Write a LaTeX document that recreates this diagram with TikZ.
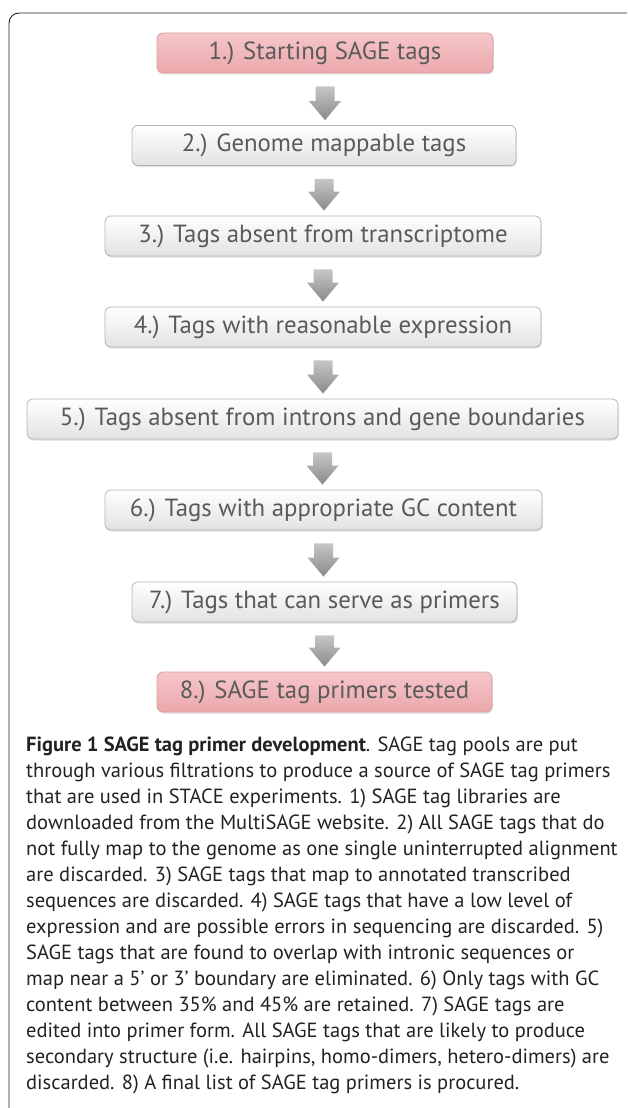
\documentclass[tikz,border=0pt]{standalone}
\usepackage{fontspec}
\setmainfont{PT Sans}
\usetikzlibrary{calc,shadows}
\definecolor{txt}{HTML}{5A5A5A}
\definecolor{captxt}{HTML}{222222}
\definecolor{boxedge}{HTML}{B4B4B4}
\definecolor{boxbot}{HTML}{E2E2E2}
\definecolor{pinkedge}{HTML}{D9A0A3}
\definecolor{pinktop}{HTML}{F6C6C9}
\definecolor{pinkbot}{HTML}{EAA8AC}
\definecolor{arrtop}{HTML}{C6C6C6}
\definecolor{arrbot}{HTML}{8A8A8A}
\definecolor{framecol}{HTML}{222222}
\tikzset{
  stepbox/.style={rounded corners=6pt, draw=boxedge, line width=0.8pt,
    top color=white, bottom color=boxbot, minimum height=40pt, inner sep=0pt,
    text=txt, font=\fontsize{24.8}{28}\selectfont,
    drop shadow={shadow xshift=0.8pt, shadow yshift=-1.5pt, opacity=0.25}},
  pinkbox/.style={stepbox, draw=pinkedge, top color=pinktop, bottom color=pinkbot},
  arrowfill/.style={top color=arrtop, bottom color=arrbot, draw=none},
  capline/.style={anchor=base west, inner sep=0pt, text=captxt,
    font=\fontsize{20.5}{26}\selectfont}
}
\newcommand\fatarrow[2]{%
  \path[arrowfill] let \p1=(#1.south), \p2=(#2.north) in
    (\x1-9.5pt,\y1-13pt) -- (\x1+9.5pt,\y1-13pt) -- (\x1+9.5pt,\y2+24pt)
    -- (\x1+16pt,\y2+24pt) -- (\x1,\y2+5pt) -- (\x1-16pt,\y2+24pt)
    -- (\x1-9.5pt,\y2+24pt) -- cycle;}
\begin{document}
\begin{tikzpicture}[x=1pt,y=-1pt]
\useasboundingbox (0,0) rectangle (627,1108);
\draw[framecol, line width=0.9pt, rounded corners=10pt] (9,1108) -- (9,13) -- (627,13);

\node[pinkbox, minimum width=336pt] (b1) at (325,53) {1.) Starting SAGE tags};
\node[stepbox, minimum width=384pt] (b2) at (324,145.5) {2.) Genome mappable tags};
\node[stepbox, minimum width=436pt] (b3) at (323,236) {3.) Tags absent from transcriptome};
\node[stepbox, minimum width=436pt] (b4) at (323,327) {4.) Tags with reasonable expression};
\node[stepbox, minimum width=591pt] (b5) at (322.5,419) {5.) Tags absent from introns and gene boundaries};
\node[stepbox, minimum width=437pt] (b6) at (323.5,510) {6.) Tags with appropriate GC content};
\node[stepbox, minimum width=385pt] (b7) at (324.5,602) {7.) Tags that can serve as primers};
\node[pinkbox, minimum width=335pt] (b8) at (324.5,692) {8.) SAGE tag primers tested};

\fatarrow{b1}{b2}
\fatarrow{b2}{b3}
\fatarrow{b3}{b4}
\fatarrow{b4}{b5}
\fatarrow{b5}{b6}
\fatarrow{b6}{b7}
\fatarrow{b7}{b8}

\node[capline] (c1) at (26,751) {\textbf{Figure 1 SAGE tag primer development}. SAGE tag pools are put};
\node[capline] (c2) at (26,777) {through various filtrations to produce a source of SAGE tag primers};
\node[capline] (c3) at (26,803) {that are used in STACE experiments. 1) SAGE tag libraries are};
\node[capline] (c4) at (26,829) {downloaded from the MultiSAGE website. 2) All SAGE tags that do};
\node[capline] (c5) at (26,855) {not fully map to the genome as one single uninterrupted alignment};
\node[capline] (c6) at (26,881) {are discarded. 3) SAGE tags that map to annotated transcribed};
\node[capline] (c7) at (26,907) {sequences are discarded. 4) SAGE tags that have a low level of};
\node[capline] (c8) at (26,933) {expression and are possible errors in sequencing are discarded. 5)};
\node[capline] (c9) at (26,959) {SAGE tags that are found to overlap with intronic sequences or};
\node[capline] (c10) at (26,985) {map near a 5\textquoteright{} or 3\textquoteright{} boundary are eliminated. 6) Only tags with GC};
\node[capline] (c11) at (26,1011) {content between 35\% and 45\% are retained. 7) SAGE tags are};
\node[capline] (c12) at (26,1037) {edited into primer form. All SAGE tags that are likely to produce};
\node[capline] (c13) at (26,1063) {secondary structure (i.e. hairpins, homo-dimers, hetero-dimers) are};
\node[capline] (c14) at (26,1089) {discarded. 8) A final list of SAGE tag primers is procured.};
\end{tikzpicture}
\end{document}
